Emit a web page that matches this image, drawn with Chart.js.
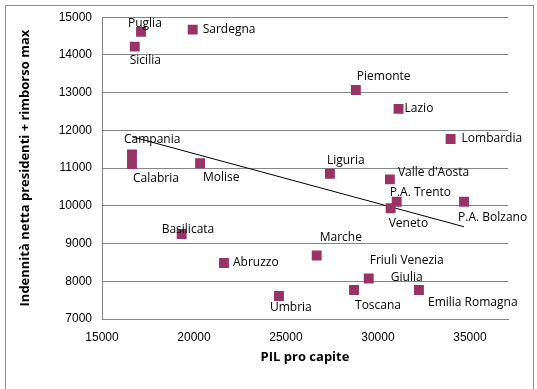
<!DOCTYPE html>
<html>
<head>
<meta charset="utf-8">
<script src="https://cdn.jsdelivr.net/npm/chart.js@4.4.1/dist/chart.umd.min.js"></script>
<style>
  html, body { margin: 0; padding: 0; background: #fff; }
  #wrap { width: 537px; height: 389px; position: relative; }
</style>
</head>
<body>
<div id="wrap"><canvas id="scatterChart"></canvas></div>
<script>
// regioni
var regions = ['Puglia', 'Sicilia', 'Sardegna', 'Campania', 'Calabria', 'Molise',
    'Piemonte', 'Lazio', 'Lombardia', 'Liguria', "Valle d'Aosta", 'P.A. Trento',
    'P.A. Bolzano', 'Veneto', 'Marche', 'Friuli Venezia\nGiulia', 'Toscana',
    'Emilia Romagna', 'Umbria', 'Basilicata', 'Abruzzo'];
// PIL pro capite
var pil = [17120, 16780, 19930, 16630, 16630, 20330,
    28800, 31120, 33950, 27390, 30650, 31020,
    34680, 30690, 26670, 29500, 28700,
    32230, 24620, 19330, 21630];
// indennita netta presidenti + rimborso max
var indennita = [14610, 14220, 14670, 11360, 11110, 11130,
    13070, 12570, 11770, 10850, 10700, 10110,
    10110, 9935, 8685, 8075, 7770,
    7770, 7610, 9255, 8485];
// linea di tendenza (estremi)
var trendX = [16630, 34680];
var trendY = [11830, 9445];

var xTicks = [15000, 20000, 25000, 30000, 35000];
var yTicks = [7000, 8000, 9000, 10000, 11000, 12000, 13000, 14000, 15000];

// spostamento etichette rispetto al punto (inizio testo, centro verticale)
var labelOffsets = [[-13, -8], [-5, 14], [10, 0], [-8, -15], [1, 15], [3, 14],
    [1, -13], [6, 0], [11, 0], [-3, -13], [8, -7], [-7, -9],
    [-6, 16], [-2, 15], [3, -18], [1, -9], [1, 16],
    [9, 13], [-9, 12], [-20, -4], [9, 0]];

var points = pil.map(function (x, i) { return { x: x, y: indennita[i] }; });
var trend = trendX.map(function (x, i) { return { x: x, y: trendY[i] }; });

var borderPlugin = {
    id: 'outerBorder',
    beforeDraw: function (chart) {
        var ctx = chart.ctx;
        ctx.save();
        ctx.fillStyle = '#fff';
        ctx.fillRect(0, 0, chart.width, chart.height);
        ctx.strokeStyle = '#8c8c8c';
        ctx.lineWidth = 1;
        ctx.strokeRect(5.5, 5.5, 528, 420);
        ctx.restore();
    }
};

var labelPlugin = {
    id: 'pointLabels',
    afterDatasetsDraw: function (chart) {
        var ctx = chart.ctx;
        var meta = chart.getDatasetMeta(0);
        ctx.save();
        ctx.font = '12px "Open Sans", sans-serif';
        ctx.fillStyle = '#000';
        ctx.textBaseline = 'middle';
        ctx.textAlign = 'center';
        meta.data.forEach(function (pt, i) {
            var lines = regions[i].split('\n');
            var widest = 0;
            lines.forEach(function (l) { widest = Math.max(widest, ctx.measureText(l).width); });
            var cx = pt.x + labelOffsets[i][0] + widest / 2;
            var cy = pt.y + labelOffsets[i][1] - (lines.length - 1) * 8.5;
            lines.forEach(function (l, k) {
                ctx.fillText(l, cx, cy + k * 17);
            });
        });
        ctx.restore();
    }
};

function plainNumber(v) { return String(v); }

var ctx = document.getElementById('scatterChart').getContext('2d');
var scatterChart = new Chart(ctx, {
    type: 'scatter',
    data: {
        datasets: [{
            label: 'Regioni',
            data: points,
            pointStyle: 'rect',
            pointRadius: 7,
            pointHoverRadius: 7,
            backgroundColor: '#993366',
            borderColor: '#993366',
            borderWidth: 0
        }, {
            label: 'Tendenza',
            type: 'line',
            data: trend,
            borderColor: '#000',
            borderWidth: 1,
            pointRadius: 0,
            fill: false
        }]
    },
    options: {
        responsive: true,
        maintainAspectRatio: false,
        animation: false,
        layout: { padding: { left: 6, top: 10, right: 29, bottom: 10 } },
        plugins: {
            legend: { display: false },
            tooltip: { enabled: false }
        },
        scales: {
            x: {
                type: 'linear',
                min: 15000,
                max: 37070,
                afterBuildTicks: function (axis) {
                    axis.ticks = xTicks.map(function (v) { return { value: v }; });
                },
                afterFit: function (axis) { axis.height = 60; },
                grid: { display: false, drawTicks: false },
                border: { display: true, color: '#868686' },
                ticks: {
                    padding: 11,
                    color: '#000',
                    font: { family: 'Liberation Sans', size: 12 },
                    maxRotation: 0,
                    callback: plainNumber
                },
                title: {
                    display: true,
                    text: 'PIL pro capite',
                    color: '#000',
                    font: { family: 'Open Sans', size: 13, weight: 'bold' },
                    padding: { top: 4, bottom: 14 }
                }
            },
            y: {
                type: 'linear',
                min: 7000,
                max: 15000,
                afterBuildTicks: function (axis) {
                    axis.ticks = yTicks.map(function (v) { return { value: v }; });
                },
                afterFit: function (axis) { axis.width = 96; },
                grid: { color: '#868686', drawTicks: false },
                border: { display: true, color: '#868686' },
                ticks: {
                    padding: 10,
                    color: '#000',
                    font: { family: 'Liberation Sans', size: 12 },
                    callback: plainNumber
                },
                title: {
                    display: true,
                    text: 'Indennità netta presidenti + rimborso max',
                    color: '#000',
                    font: { family: 'Open Sans', size: 13, weight: 'bold' },
                    padding: { top: 11, bottom: 4 }
                }
            }
        }
    },
    plugins: [borderPlugin, labelPlugin]
});
</script>
</body>
</html>
